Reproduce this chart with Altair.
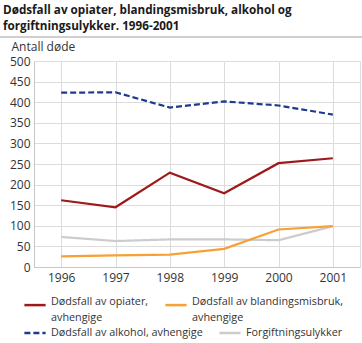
import altair as alt
import pandas as pd

years = ["1996", "1997", "1998", "1999", "2000", "2001"]
opiater = [162, 145, 229, 179, 252, 264]
blanding = [26, 28, 30, 44, 91, 99]
alkohol = [423, 424, 387, 402, 392, 370]
forgift = [73, 63, 67, 67, 65, 99]

series = [
    "Dødsfall av opiater, avhengige",
    "Dødsfall av blandingsmisbruk, avhengige",
    "Dødsfall av alkohol, avhengige",
    "Forgiftningsulykker",
]
colors = ["#9e1a1a", "#f7a035", "#1c3a8f", "#cccccc"]
dashes = [[1, 0], [1, 0], [6, 3], [1, 0]]

rows = []
for s, vals in zip(series, [opiater, blanding, alkohol, forgift]):
    for y, v in zip(years, vals):
        rows.append({"year": y, "value": v, "series": s})
df = pd.DataFrame(rows)
df_top = df[df["series"].isin(series[:2])]
df_bot = df[df["series"].isin(series[2:])]

font = "Open Sans"
lab = "#333333"

label_expr = (
    "datum.label == 'Dødsfall av opiater, avhengige' ? ['Dødsfall av opiater,', 'avhengige'] : "
    "datum.label == 'Dødsfall av blandingsmisbruk, avhengige' ? ['Dødsfall av blandingsmisbruk,', 'avhengige'] : "
    "datum.label"
)

x_enc = alt.X("year:O", title=None, sort=years,
              scale=alt.Scale(paddingOuter=0.5),
              axis=alt.Axis(labelAngle=0, grid=True, gridColor="#dcdcdc", ticks=False,
                            domainColor="#c8c8c8", labelColor=lab, labelFontSize=12,
                            labelFont=font, labelPadding=5))
y_enc = alt.Y("value:Q", scale=alt.Scale(domain=[0, 500]),
              axis=alt.Axis(values=list(range(0, 501, 50)), grid=True, gridColor="#dcdcdc",
                            ticks=False, domainColor="#c8c8c8", labelColor=lab,
                            labelFontSize=12, labelFont=font, labelPadding=4,
                            title="Antall døde", titleAngle=0, titleAlign="left",
                            titleBaseline="bottom", titleX=-23, titleY=-8,
                            titleFontWeight="normal", titleFontSize=12, titleFont=font,
                            titleColor=lab))

leg_common = dict(title=None, orient="none", legendX=-11, direction="horizontal",
                  symbolType="stroke", symbolStrokeWidth=2.5, symbolSize=450,
                  labelFontSize=10.8, labelFont=font, labelColor=lab,
                  columnPadding=11, labelLimit=300, labelOffset=4, padding=0)

sep = alt.Chart(pd.DataFrame({"k": [0]})).mark_rule(
    color="#a0a0a0", strokeWidth=1.2, opacity=1
).encode(
    x=alt.value(-34), x2=alt.value(328), y=alt.value(-24)
)

top_lines = alt.Chart(df_top).mark_line(strokeWidth=2.2).encode(
    x=x_enc, y=y_enc,
    color=alt.Color("series:N", sort=series[:2],
                    scale=alt.Scale(domain=series[:2], range=colors[:2]),
                    legend=alt.Legend(legendY=232, labelExpr=label_expr,
                                      labelBaseline="alphabetic", **leg_common)),
)

bot_lines = alt.Chart(df_bot).mark_line(strokeWidth=2.2).encode(
    x=x_enc, y=y_enc,
    color=alt.Color("series:N", sort=series[2:],
                    scale=alt.Scale(domain=series[2:], range=colors[2:]),
                    legend=alt.Legend(legendY=260, labelBaseline="middle", **leg_common)),
    strokeDash=alt.StrokeDash("series:N", sort=series[2:],
                              scale=alt.Scale(domain=series[2:], range=dashes[2:]),
                              legend=None),
)

chart = alt.layer(sep, bot_lines, top_lines).resolve_scale(
    color="independent", strokeDash="independent"
).resolve_legend(
    color="independent", strokeDash="independent"
).properties(
    width=326, height=206,
    padding={"left": 34, "top": 61, "right": 2, "bottom": 76},
    autosize=alt.AutoSizeParams(type="none"),
    title=alt.TitleParams(
        ["Dødsfall av opiater, blandingsmisbruk, alkohol og", "forgiftningsulykker. 1996-2001"],
        anchor="start", frame="group", dx=-31, offset=4, fontSize=11.7, fontWeight="bold",
        font=font, color="#1a1a1a", lineHeight=16,
    ),
).configure_view(stroke=None).configure(style={"guide-label": {"lineHeight": 16}})

chart.save("out.html", embed_options={"renderer": "svg", "actions": False})
